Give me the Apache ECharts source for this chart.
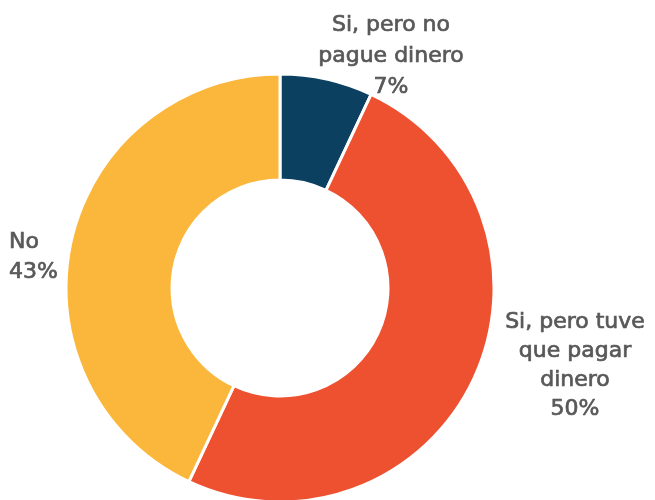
<!DOCTYPE html>
<html>
<head>
<meta charset="utf-8">
<script src="https://cdn.jsdelivr.net/npm/echarts@6/dist/echarts.min.js"></script>
<style>
  html, body { margin: 0; padding: 0; background: #fff; }
  #chart { width: 655px; height: 500px; }
</style>
</head>
<body>
<div id="chart"></div>
<script>
  const categories = ['Si, pero no\npague dinero', 'Si, pero tuve\nque pagar\ndinero', 'No'];
  const values = [7, 50, 43];
  const colors = ['#0b4061', '#ee5130', '#fbb73b'];

  // label anchors (layout only)
  const labelSpots = [
    { x: 391, y: 56, align: 'center', lineHeight: 31 },
    { x: 575, y: 366, align: 'center', lineHeight: 29 },
    { x: 9, y: 257, align: 'left', lineHeight: 30 }
  ];

  const chart = echarts.init(document.getElementById('chart'));

  chart.setOption({
    animation: false,
    series: [
      {
        type: 'pie',
        center: [280, 288],
        radius: [108, 214],
        startAngle: 90,
        clockwise: true,
        avoidLabelOverlap: false,
        itemStyle: { borderColor: '#fff', borderWidth: 3 },
        label: {
          show: true,
          position: 'outside',
          formatter: p => p.name + '\n' + p.value + '%',
          color: '#585858',
          textBorderColor: '#585858',
          textBorderWidth: 0.7,
          fontFamily: 'DejaVu Sans',
          fontWeight: 'normal',
          fontSize: 22,
          lineHeight: 30,
          overflow: 'none',
          width: 200
        },
        labelLine: { show: false },
        labelLayout: params => {
          const s = labelSpots[params.dataIndex];
          return { x: s.x, y: s.y, align: s.align, verticalAlign: 'middle', hideOverlap: false, moveOverlap: null };
        },
        data: categories.map((name, i) => ({
          name: name,
          value: values[i],
          itemStyle: { color: colors[i] },
          label: { lineHeight: labelSpots[i].lineHeight }
        }))
      }
    ]
  });
</script>
</body>
</html>
